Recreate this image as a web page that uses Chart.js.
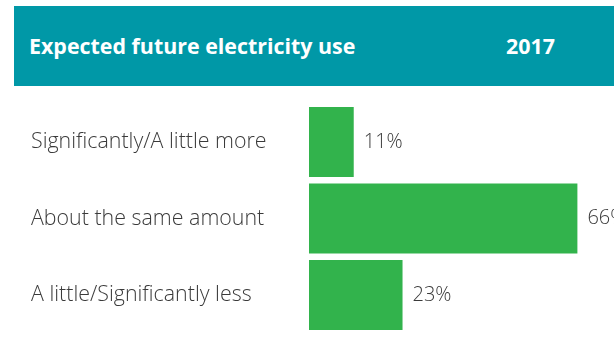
<!DOCTYPE html>
<html>
<head>
<meta charset="utf-8">
<script src="https://cdn.jsdelivr.net/npm/chart.js@4"></script>
<style>
  html, body { margin: 0; padding: 0; background: #fff; }
  body { width: 614px; height: 349px; position: relative; overflow: hidden; font-family: "Open Sans", sans-serif; }
  .header {
    position: absolute; left: 14px; top: 6px; width: 600px; height: 80px;
    background: #0098a7; color: #fff; font-weight: 700; font-size: 21.4px;
  }
  .header span { position: absolute; top: 25px; line-height: 30px; }
  #chart { position: absolute; left: 0; top: 86px; }
</style>
</head>
<body>
<div class="header">
  <span style="left: 15px;">Expected future electricity use</span>
  <span style="left: 492px;">2017</span>
</div>
<canvas id="chart" width="614" height="263"></canvas>
<script>
const TEXT_COLOR = "#3a3a3a";
const BAR_COLOR = "#32b34c";

const categories = [
  "Significantly/A little more",
  "About the same amount",
  "A little/Significantly less",
];
const values2017 = [11, 66, 23];

// draws "NN%" just right of each bar
const valueLabels = {
  id: "valueLabels",
  afterDatasetsDraw(chart) {
    const ctx = chart.ctx;
    const meta = chart.getDatasetMeta(0);
    ctx.save();
    ctx.font = "300 20px 'Open Sans', sans-serif";
    ctx.fillStyle = TEXT_COLOR;
    ctx.textAlign = "left";
    ctx.textBaseline = "middle";
    meta.data.forEach((bar, i) => {
      ctx.fillText(values2017[i] + "%", bar.x + 10, bar.y);
    });
    ctx.restore();
  },
};

new Chart(document.getElementById("chart"), {
  type: "bar",
  data: {
    labels: categories,
    datasets: [
      {
        label: "2017",
        data: values2017,
        backgroundColor: BAR_COLOR,
        borderWidth: 0,
        barPercentage: 0.915,
        categoryPercentage: 1,
      },
    ],
  },
  options: {
    responsive: false,
    animation: false,
    indexAxis: "y",
    layout: { padding: { left: 31, right: 0, top: 17.75, bottom: 15.5 } },
    scales: {
      x: { display: false, min: 0, max: 75 },
      y: {
        grid: { display: false },
        border: { display: false },
        ticks: {
          crossAlign: "far",
          color: TEXT_COLOR,
          font: { family: "'Open Sans', sans-serif", size: 21.4, weight: 300 },
        },
        afterFit(scale) {
          scale.width = 278;
        },
      },
    },
    plugins: {
      legend: { display: false },
      tooltip: { enabled: false },
    },
  },
  plugins: [valueLabels],
});
</script>
</body>
</html>
